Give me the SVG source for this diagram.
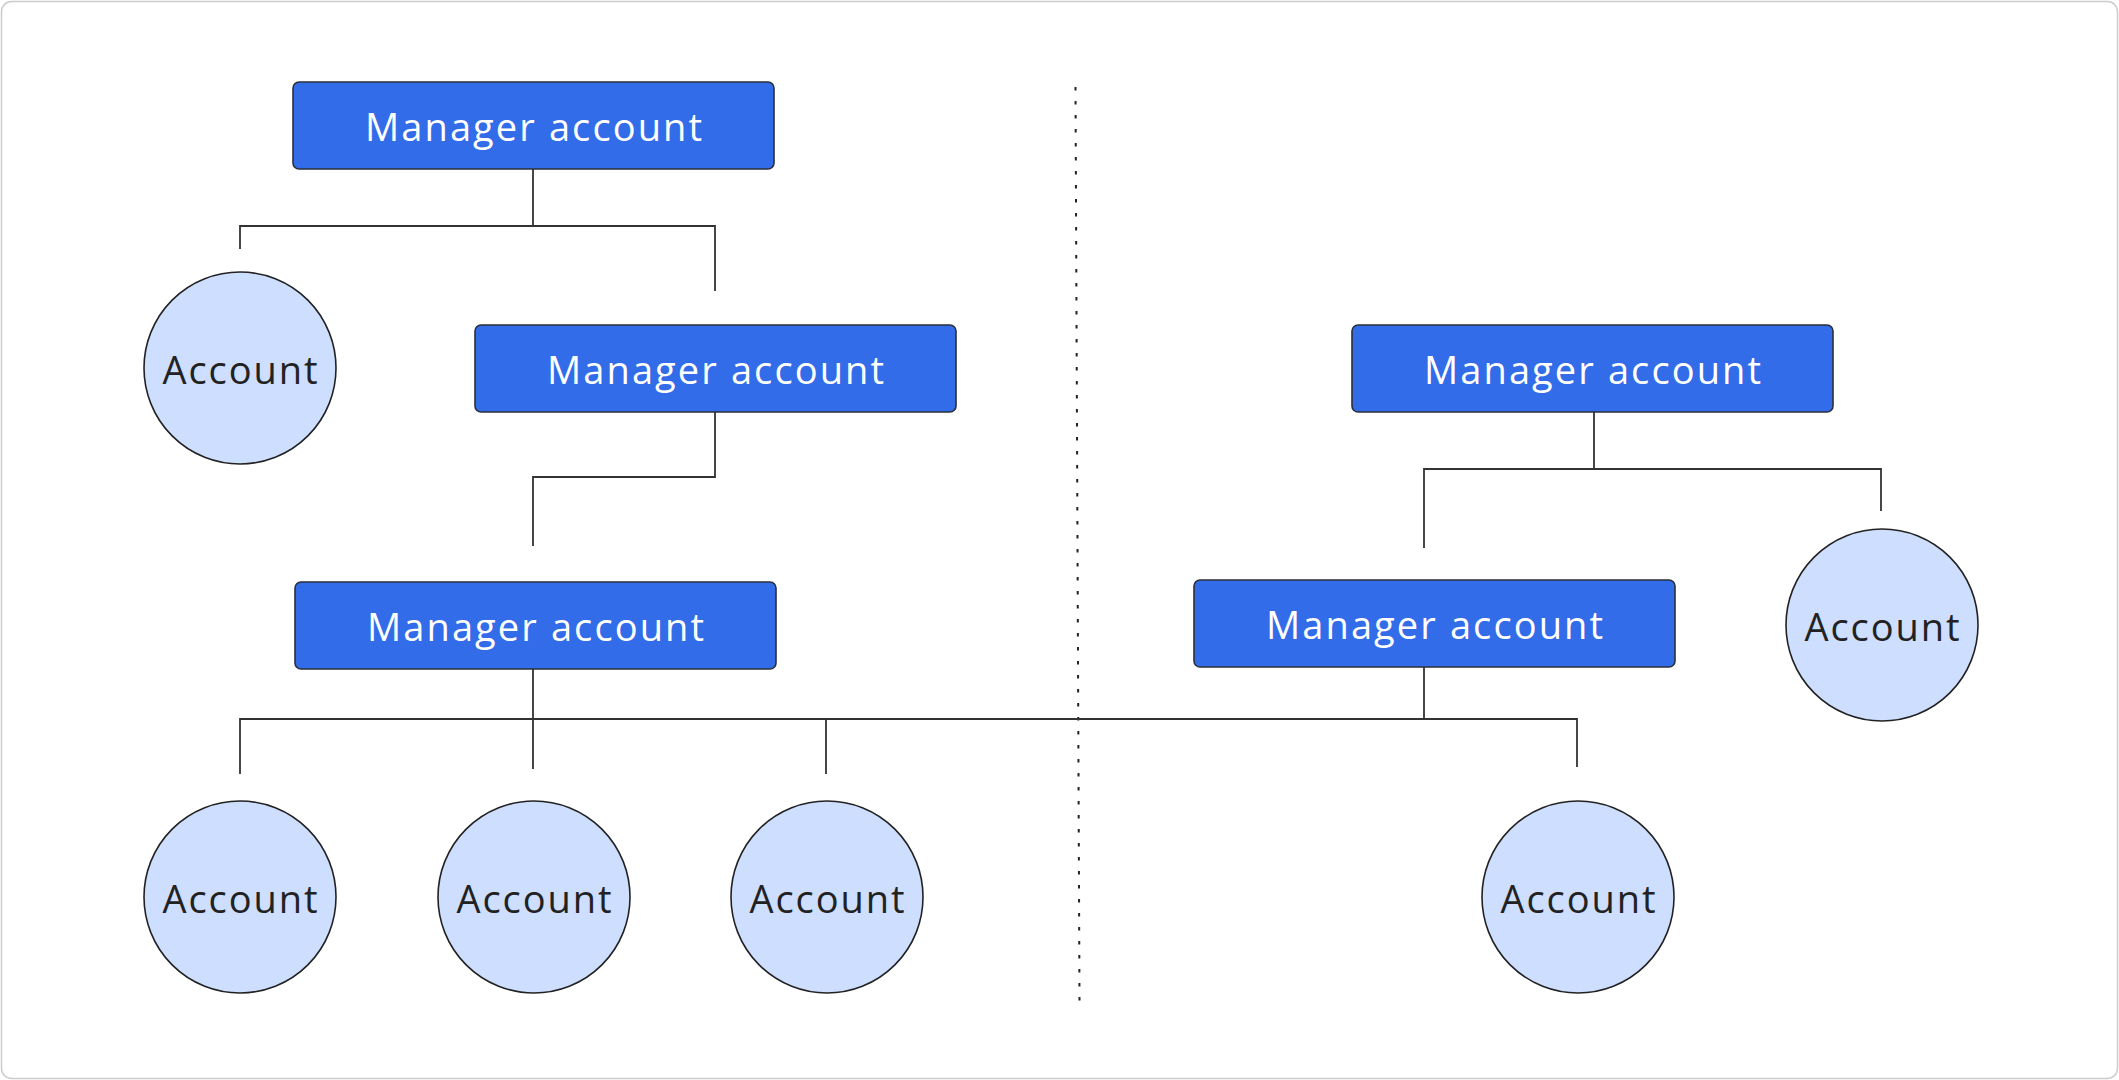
<svg xmlns="http://www.w3.org/2000/svg" width="2119" height="1080" viewBox="0 0 2119 1080">
<style>
.mgr rect{fill:#326ce9;stroke:#2a2f3a;stroke-width:1.6}
.mgr text{fill:#ffffff;font-family:"Open Sans","Liberation Sans",sans-serif;font-size:38px;text-anchor:middle}
.acc circle{fill:#cddeff;stroke:#222;stroke-width:1.6}
.acc text{fill:#222;font-family:"Open Sans","Liberation Sans",sans-serif;font-size:38px;text-anchor:middle}
.conn path{fill:none;stroke:#333;stroke-width:1.8}
</style>
<rect x="1.5" y="1.5" width="2116" height="1077" rx="10" fill="#fff" stroke="#cccccc" stroke-width="1.5"/>
<line x1="1075.5" y1="87" x2="1079.5" y2="1001" stroke="#222" stroke-width="2" stroke-dasharray="3.5 10.5"/>
<g id="connectors" class="conn">
<path d="M533,169 V226"/>
<path d="M240,249 V226 H715 V291"/>
<path d="M715,412 V477 H533 V546"/>
<path d="M533,669 V769"/>
<path d="M240,774 V719 H1577 V767"/>
<path d="M826,719 V774"/>
<path d="M1594,412 V469"/>
<path d="M1424,548 V469 H1881 V511"/>
<path d="M1424,667 V719"/>
</g>
<g id="manager1" class="mgr"><rect x="293" y="82" width="481" height="87" rx="6"/><text x="533.5" y="141" textLength="337" lengthAdjust="spacing">Manager account</text></g>
<g id="manager2" class="mgr"><rect x="475" y="325" width="481" height="87" rx="6"/><text x="715.5" y="384" textLength="337" lengthAdjust="spacing">Manager account</text></g>
<g id="manager3" class="mgr"><rect x="295" y="582" width="481" height="87" rx="6"/><text x="535.5" y="641" textLength="337" lengthAdjust="spacing">Manager account</text></g>
<g id="manager4" class="mgr"><rect x="1352" y="325" width="481" height="87" rx="6"/><text x="1592.5" y="384" textLength="337" lengthAdjust="spacing">Manager account</text></g>
<g id="manager5" class="mgr"><rect x="1194" y="580" width="481" height="87" rx="6"/><text x="1434.5" y="639" textLength="337" lengthAdjust="spacing">Manager account</text></g>
<g id="account1" class="acc"><circle cx="240" cy="368" r="96"/><text x="240" y="384" textLength="155" lengthAdjust="spacing">Account</text></g>
<g id="account2" class="acc"><circle cx="240" cy="897" r="96"/><text x="240" y="913" textLength="155" lengthAdjust="spacing">Account</text></g>
<g id="account3" class="acc"><circle cx="534" cy="897" r="96"/><text x="534" y="913" textLength="155" lengthAdjust="spacing">Account</text></g>
<g id="account4" class="acc"><circle cx="827" cy="897" r="96"/><text x="827" y="913" textLength="155" lengthAdjust="spacing">Account</text></g>
<g id="account5" class="acc"><circle cx="1578" cy="897" r="96"/><text x="1578" y="913" textLength="155" lengthAdjust="spacing">Account</text></g>
<g id="account6" class="acc"><circle cx="1882" cy="625" r="96"/><text x="1882" y="641" textLength="155" lengthAdjust="spacing">Account</text></g>
</svg>
